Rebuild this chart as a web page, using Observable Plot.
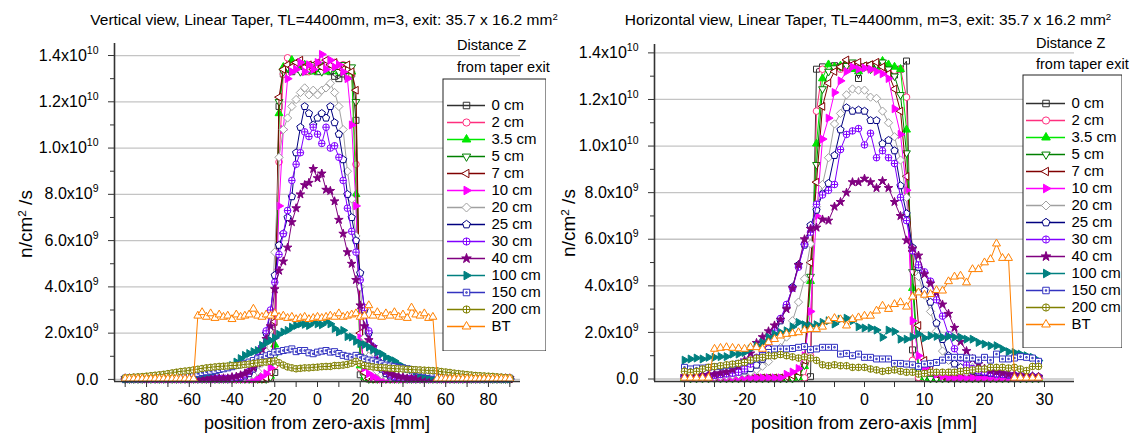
<!DOCTYPE html>
<html>
<head>
<meta charset="utf-8">
<script src="https://cdn.jsdelivr.net/npm/d3@7"></script>
<script src="https://cdn.jsdelivr.net/npm/@observablehq/plot@0.6"></script>
<style>
  body { margin: 0; background: #fff; }
  #chart { position: relative; width: 1139px; height: 444px; overflow: hidden; background: #fff;
           font-family: Arial, "Liberation Sans", sans-serif; color: #000; }
  .panel { position: absolute; top: 0; }
  .panel svg, .legend svg { max-width: none; display: block; }
  .legend { position: absolute; }
  .title { position: absolute; font-size: 15.5px; white-space: nowrap; line-height: 16px; transform: translateX(-50%); }
  .head { position: absolute; font-size: 14.5px; white-space: nowrap; line-height: 14px; background: #fff; }
  .xlab { position: absolute; font-size: 18px; white-space: nowrap; transform: translateX(-50%); line-height: 18px; }
  .ylab { position: absolute; font-size: 19px; white-space: nowrap; line-height: 19px;
          transform: translate(-50%, -50%) rotate(-90deg); }
  sup { font-size: 0.62em; position: relative; top: -0.55em; vertical-align: baseline; line-height: 0; }
</style>
</head>
<body>
<div id="chart">
  <div id="panelV" class="panel" style="left:0px"></div>
  <div id="panelH" class="panel" style="left:570px"></div>

  <div class="title" style="left:324px; top:12px">Vertical view, Linear Taper, TL=4400mm, m=3, exit: 35.7 x 16.2 mm<sup>2</sup></div>
  <div class="title" style="left:868px; top:12px">Horizontal view, Linear Taper, TL=4400mm, m=3, exit: 35.7 x 16.2 mm<sup>2</sup></div>

  <div class="ylab" style="left:25px; top:224px">n/cm<sup>2</sup> /s</div>
  <div class="ylab" style="left:568px; top:223px">n/cm<sup>2</sup> /s</div>

  <div class="xlab" style="left:317px; top:414px">position from zero-axis [mm]</div>
  <div class="xlab" style="left:864px; top:414px">position from zero-axis [mm]</div>

  <div class="head" style="left:457px; top:38px">Distance Z</div>
  <div class="head" style="left:457px; top:60px">from taper exit</div>
  <div class="head" style="left:1036px; top:36px">Distance Z</div>
  <div class="head" style="left:1036px; top:57px">from taper exit</div>

  <div id="legendV" class="legend" style="left:442px; top:78px"></div>
  <div id="legendH" class="legend" style="left:1022px; top:74px"></div>
</div>

<script>
// ---------------------------------------------------------------
// Neutron flux profiles behind a linear taper (units: 1e9 n/cm²/s)
// ---------------------------------------------------------------
const UNIT = 1e9;

const seriesNames = ["0 cm", "2 cm", "3.5 cm", "5 cm", "7 cm", "10 cm", "20 cm",
                     "25 cm", "30 cm", "40 cm", "100 cm", "150 cm", "200 cm", "BT"];
const seriesColors = ["#303030", "#ff2e7e", "#00e800", "#008000", "#800000", "#ff00ff", "#a0a0a0",
                      "#000080", "#8000ff", "#800080", "#008080", "#3333c0", "#808000", "#ff8000"];
const markerSolid = [false, false, true, false, false, true, false,
                     false, false, true, true, false, false, false];

// axis ticks
const yMajor = [0, 2e9, 4e9, 6e9, 8e9, 10e9, 12e9, 14e9];
const yMinor = [1e9, 3e9, 5e9, 7e9, 9e9, 11e9, 13e9];
const xMajorV = [-80, -60, -40, -20, 0, 20, 40, 60, 80];
const xMinorV = [-90, -70, -50, -30, -10, 10, 30, 50, 70, 90];
const xMajorH = [-30, -20, -10, 0, 10, 20, 30];
const xMinorH = [-25, -15, -5, 5, 15, 25];

// ---------------- vertical view: positions (mm) ----------------
const posV = [-90,-88,-86,-84,-82,-80,-78,-76,-74,-72,-70,-68,-66,-64,-62,-60,-58,-56,-54,-52,-50,-48,-46,-44,-42,
  -40,-38,-36,-34,-32,-30,-28,-26,-24,-22,-20,-18,-16,-14,-12,-10,-8,-6,-4,-2,0,2,4,6,8,10,12,14,16,18,20,
  22,24,26,28,30,32,34,36,38,40,42,44,46,48,50,52,54,56,58,60,62,64,66,68,70,72,74,76,78,80,82,84,86,88,90];

const vV0 = [
  0.02,0.02,0.02,0.02,0.02,0.02,0.02,0.02,0.02,0.02,0.02,0.02,0.02,0.02,0.02,0.02,0.02,
  0.02,0.02,0.02,0.02,0.02,0.02,0.02,0.02,0.02,0.02,0.02,0.02,0.02,0.02,0.02,0.02,0.02,
  0.05,0.3,11.8,13.2,13.4,13.3,13.5,13.4,13.3,13.5,13.4,
  13.3,13.5,13.4,13.3,13.1,13.0,13.2,13.1,13.2,11.2,0.2,0.05,
  0.02,0.02,0.02,0.02,0.02,0.02,0.02,0.02,0.02,0.02,0.02,0.02,0.02,0.02,0.02,0.02,0.02,
  0.02,0.02,0.02,0.02,0.02,0.02,0.02,0.02,0.02,0.02,0.02,0.02,0.02,0.02,0.02,0.02,0.02];
const vV2 = [
  0.02,0.02,0.02,0.02,0.02,0.02,0.02,0.02,0.02,0.02,0.02,0.02,0.02,0.02,0.02,0.02,0.02,
  0.02,0.02,0.02,0.02,0.02,0.02,0.02,0.02,0.02,0.02,0.02,0.02,0.02,0.02,0.02,0.02,0.02,
  0.1,0.6,9.4,13.2,13.9,13.5,13.6,13.4,13.6,13.3,13.5,
  13.6,13.4,13.6,13.5,13.7,13.5,13.6,13.4,13.2,9.3,0.5,0.1,
  0.02,0.02,0.02,0.02,0.02,0.02,0.02,0.02,0.02,0.02,0.02,0.02,0.02,0.02,0.02,0.02,0.02,
  0.02,0.02,0.02,0.02,0.02,0.02,0.02,0.02,0.02,0.02,0.02,0.02,0.02,0.02,0.02,0.02,0.02];
const vV3p5 = [
  0.02,0.02,0.02,0.02,0.02,0.02,0.02,0.02,0.02,0.02,0.02,0.02,0.02,0.02,0.02,0.02,0.02,
  0.02,0.02,0.02,0.02,0.02,0.02,0.02,0.02,0.02,0.02,0.02,0.02,0.02,0.02,0.02,0.02,0.02,
  0.15,1.5,11.5,13.5,13.4,13.8,13.5,13.4,13.6,13.5,13.3,
  13.4,13.5,13.3,13.4,13.5,13.3,13.4,13.5,13.3,8.0,0.6,0.1,
  0.02,0.02,0.02,0.02,0.02,0.02,0.02,0.02,0.02,0.02,0.02,0.02,0.02,0.02,0.02,0.02,0.02,
  0.02,0.02,0.02,0.02,0.02,0.02,0.02,0.02,0.02,0.02,0.02,0.02,0.02,0.02,0.02,0.02,0.02];
const vV5 = [
  0.02,0.02,0.02,0.02,0.02,0.02,0.02,0.02,0.02,0.02,0.02,0.02,0.02,0.02,0.02,0.02,0.02,
  0.02,0.02,0.02,0.02,0.02,0.02,0.02,0.02,0.02,0.02,0.02,0.02,0.02,0.02,0.02,0.02,0.02,
  0.1,1.0,12.0,13.3,13.5,13.4,13.6,13.3,13.5,13.4,13.6,
  13.5,13.3,13.6,13.4,13.5,13.3,13.6,13.4,13.5,12.0,1.0,0.1,
  0.02,0.02,0.02,0.02,0.02,0.02,0.02,0.02,0.02,0.02,0.02,0.02,0.02,0.02,0.02,0.02,0.02,
  0.02,0.02,0.02,0.02,0.02,0.02,0.02,0.02,0.02,0.02,0.02,0.02,0.02,0.02,0.02,0.02,0.02];
const vV7 = [
  0.02,0.02,0.02,0.02,0.02,0.02,0.02,0.02,0.02,0.02,0.02,0.02,0.02,0.02,0.02,0.02,0.02,
  0.02,0.02,0.02,0.02,0.02,0.02,0.02,0.02,0.02,0.02,0.02,0.02,0.02,0.02,0.02,0.02,0.05,
  0.3,2.5,12.2,13.4,13.6,13.5,13.7,13.8,13.5,13.6,13.4,
  13.7,13.5,13.8,13.6,13.7,13.5,13.4,13.6,13.3,12.5,2.0,0.3,
  0.05,0.02,0.02,0.02,0.02,0.02,0.02,0.02,0.02,0.02,0.02,0.02,0.02,0.02,0.02,0.02,0.02,
  0.02,0.02,0.02,0.02,0.02,0.02,0.02,0.02,0.02,0.02,0.02,0.02,0.02,0.02,0.02,0.02,0.02];
const vV10 = [
  0.02,0.02,0.02,0.02,0.02,0.02,0.02,0.02,0.02,0.02,0.02,0.02,0.02,0.02,0.02,0.02,
  0.02,0.02,0.02,0.02,0.02,0.02,0.02,0.02,0.02,0.02,0.02,0.02,0.02,0.02,0.02,
  0.05,0.12,0.25,
  0.5,1.8,7.5,10.8,13.0,13.3,13.4,13.7,13.3,13.6,13.4,
  13.7,14.05,13.4,13.8,13.5,13.6,13.3,13.0,11.0,7.5,1.8,0.5,
  0.25,0.12,0.05,
  0.02,0.02,0.02,0.02,0.02,0.02,0.02,0.02,0.02,0.02,0.02,0.02,0.02,0.02,0.02,0.02,
  0.02,0.02,0.02,0.02,0.02,0.02,0.02,0.02,0.02,0.02,0.02,0.02,0.02,0.02,0.02];
const vV20 = [
  0.02,0.02,0.02,0.02,0.02,0.02,0.02,0.02,0.02,0.02,0.02,0.02,0.02,
  0.02,0.02,0.02,0.02,0.02,0.02,0.02,0.02,0.02,0.02,0.02,0.02,
  0.04,0.05,0.07,0.1,0.14,0.2,0.35,0.7,1.2,2.2,
  5.5,9.6,10.8,11.3,11.8,12.1,12.4,12.6,12.3,12.5,12.3,12.5,12.6,12.8,12.4,11.8,10.8,9.0,7.8,6.2,4.0,
  1.8,1.0,0.6,0.35,0.2,0.14,0.1,0.07,0.05,0.04,
  0.02,0.02,0.02,0.02,0.02,0.02,0.02,0.02,0.02,0.02,0.02,0.02,0.02,
  0.02,0.02,0.02,0.02,0.02,0.02,0.02,0.02,0.02,0.02,0.02,0.02];
const vV25 = [
  0.03,0.03,0.03,0.03,0.03,0.03,0.03,0.03,0.03,0.03,0.03,0.03,0.03,
  0.03,0.03,0.03,0.03,0.03,0.03,0.03,0.03,0.03,0.03,0.03,0.03,
  0.05,0.07,0.1,0.15,0.25,0.45,0.8,1.4,2.0,2.9,
  4.5,5.8,6.3,7.0,7.9,9.8,10.9,11.8,11.5,11.0,11.3,11.5,11.3,11.8,11.1,10.6,9.5,8.0,7.0,6.0,4.6,
  3.0,2.0,1.4,0.8,0.45,0.25,0.15,0.1,0.07,0.05,
  0.03,0.03,0.03,0.03,0.03,0.03,0.03,0.03,0.03,0.03,0.03,0.03,0.03,
  0.03,0.03,0.03,0.03,0.03,0.03,0.03,0.03,0.03,0.03,0.03,0.03];
const vV30 = [
  0.04,0.04,0.04,0.04,0.04,0.04,0.04,0.04,0.04,0.04,0.04,0.04,0.04,
  0.04,0.04,0.04,0.04,0.04,0.04,0.04,0.04,0.04,0.04,0.04,0.04,
  0.06,0.08,0.12,0.2,0.35,0.6,0.95,1.4,2.1,3.0,
  4.2,5.4,6.3,7.3,8.6,9.3,9.8,10.7,10.5,10.9,10.6,10.2,10.9,10.0,10.1,9.6,8.6,7.4,6.4,5.5,4.3,
  3.1,2.1,1.4,0.95,0.6,0.35,0.2,0.12,0.08,0.06,
  0.04,0.04,0.04,0.04,0.04,0.04,0.04,0.04,0.04,0.04,0.04,0.04,0.04,
  0.04,0.04,0.04,0.04,0.04,0.04,0.04,0.04,0.04,0.04,0.04,0.04];
const vV40 = [
  0.05,0.05,0.05,0.05,0.05,0.05,0.05,0.05,0.05,0.05,0.05,0.05,0.05,
  0.05,0.05,0.05,0.05,0.05,0.05,0.05,0.05,0.05,0.05,0.05,0.05,
  0.1,0.12,0.18,0.25,0.35,0.5,0.7,1.3,1.75,2.3,
  3.9,4.7,5.1,5.7,6.8,7.4,8.0,8.4,8.5,9.1,8.7,8.9,8.2,8.15,7.7,6.9,6.3,5.5,5.0,4.3,3.2,
  2.3,1.7,1.4,0.8,0.55,0.35,0.25,0.18,0.12,0.1,
  0.05,0.05,0.05,0.05,0.05,0.05,0.05,0.05,0.05,0.05,0.05,0.05,0.05,
  0.05,0.05,0.05,0.05,0.05,0.05,0.05,0.05,0.05,0.05,0.05,0.05];
const vV100 = [
  0.02,0.03,0.03,0.04,0.05,0.06,0.07,0.08,0.09,0.1,0.11,0.12,0.13,0.14,0.16,0.18,0.2,0.22,0.25,0.28,
  0.32,0.36,0.4,0.47,0.53,
  0.6,0.75,0.9,1.04,1.12,1.2,1.25,1.47,1.6,1.68,
  1.8,1.95,2.05,2.12,2.26,2.33,2.4,2.38,2.33,2.48,2.4,2.36,2.5,2.4,2.2,2.05,2.12,1.85,1.83,1.65,1.55,
  1.5,1.4,1.28,1.18,1.1,0.95,0.88,0.8,0.65,0.55,
  0.46,0.42,0.36,0.26,0.2,0.17,0.15,0.13,0.12,0.11,0.1,0.09,0.08,0.07,0.07,0.06,0.05,0.05,0.04,0.04,
  0.03,0.03,0.03,0.02,0.02];
const vV150 = [
  0.03,0.04,0.05,0.05,0.06,0.07,0.08,0.1,0.12,0.13,0.14,0.15,0.17,0.18,0.2,0.22,0.24,0.26,0.3,0.33,
  0.36,0.39,0.43,0.46,0.5,
  0.55,0.6,0.64,0.68,0.75,0.82,0.89,0.95,1.02,1.08,
  1.18,1.2,1.25,1.28,1.32,1.2,1.25,1.25,1.15,1.11,1.18,1.22,1.25,1.18,1.2,1.12,1.04,1.0,0.96,1.04,0.95,
  0.89,0.84,0.8,0.75,0.68,0.62,0.58,0.55,0.52,0.49,
  0.46,0.42,0.39,0.36,0.33,0.3,0.27,0.24,0.21,0.18,0.16,0.15,0.14,0.13,0.12,0.11,0.1,0.09,0.08,0.08,
  0.07,0.06,0.06,0.05,0.05];
const vV200 = [
  0.07,0.08,0.1,0.11,0.12,0.14,0.16,0.18,0.2,0.22,0.25,0.28,0.31,0.34,0.36,0.38,0.41,0.44,0.47,0.5,
  0.52,0.54,0.56,0.57,0.58,
  0.6,0.6,0.62,0.64,0.66,0.69,0.71,0.74,0.75,0.78,
  0.8,0.72,0.62,0.54,0.5,0.46,0.48,0.5,0.5,0.52,0.53,0.55,0.56,0.56,0.6,0.6,0.62,0.65,0.7,0.78,0.68,
  0.6,0.57,0.54,0.52,0.51,0.5,0.48,0.47,0.46,0.45,
  0.44,0.43,0.42,0.41,0.4,0.39,0.38,0.37,0.34,0.32,0.3,0.27,0.25,0.23,0.21,0.19,0.17,0.16,0.15,0.14,
  0.13,0.11,0.1,0.08,0.07];
const vVBT = [
  0.03,0.03,0.03,0.03,0.03,0.03,0.03,0.03,0.03,0.03,0.03,0.03,0.03,0.03,0.03,0.03,0.03,
  2.75,2.9,2.7,2.85,2.65,2.8,2.7,2.75,2.6,2.8,
  2.7,2.75,2.8,3.05,2.75,2.7,2.8,2.75,2.85,2.7,
  2.75,2.65,2.7,2.6,2.65,2.7,2.6,2.65,2.7,2.65,
  2.7,2.75,2.7,2.85,2.7,2.75,2.8,2.85,2.7,2.75,
  3.2,2.75,2.9,2.7,2.85,2.75,2.9,2.7,2.8,2.65,
  3.1,2.8,2.75,2.85,2.65,2.7,
  0.03,0.03,0.03,0.03,0.03,0.03,0.03,0.03,0.03,0.03,0.03,0.03,0.03,0.03,0.03,0.03,0.03,0.03];

// --------------- horizontal view: positions (mm) ---------------
const posH = [-30,-29,-28,-27,-26,-25,-24,-23,-22,-21,-20,-19,-18,-17,-16,-15,-14,-13,-12,-11,
  -10,-9,-8,-7,-6,-5,-4,-3,-2,-1,0,1,2,3,4,5,6,7,8,9,10,11,12,13,14,15,16,17,18,19,
  20,21,22,23,24,25,26,27,28,29];

const vH0 = [
  0.02,0.02,0.02,0.02,0.02,0.02,0.02,0.02,0.02,0.02,0.02,0.02,0.02,0.02,0.02,0.02,0.02,0.02,0.02,0.02,0.02,
  0.1,13.3,
  13.4,13.35,13.45,13.4,13.5,13.4,12.9,13.4,13.45,13.5,13.4,13.2,13.05,13.3,13.65,
  1.25,0.05,
  0.02,0.02,0.02,0.02,0.02,0.02,0.02,0.02,0.02,0.02,0.02,0.02,0.02,0.02,0.02,0.02,0.02,0.02,0.02,0.02];
const vH2 = [
  0.03,0.03,0.03,0.03,0.03,0.03,0.03,0.03,0.03,0.03,0.03,0.03,0.03,0.03,0.03,0.03,0.03,0.03,0.03,0.03,
  0.05,1.0,11.5,
  13.3,13.35,13.4,13.3,13.45,13.4,13.35,13.4,13.3,13.4,13.35,13.3,13.25,13.3,
  12.1,0.8,0.07,
  0.03,0.03,0.03,0.03,0.03,0.03,0.03,0.03,0.03,0.03,0.03,0.03,0.03,0.03,0.03,0.03,0.03,0.03,0.03,0.03];
const vH3p5 = [
  0.02,0.02,0.02,0.02,0.02,0.02,0.02,0.02,0.02,0.02,0.02,0.02,0.02,0.02,0.02,0.02,0.02,0.02,0.02,
  0.07,0.55,4.2,10.1,12.9,
  13.5,13.4,13.45,13.55,13.3,13.2,13.4,13.45,13.4,13.65,13.5,13.4,13.3,
  10.7,3.9,0.5,0.07,
  0.02,0.02,0.02,0.02,0.02,0.02,0.02,0.02,0.02,0.02,0.02,0.02,0.02,0.02,0.02,0.02,0.02,0.02,0.02];
const vH5 = [
  0.02,0.02,0.02,0.02,0.02,0.02,0.02,0.02,0.02,0.02,0.02,0.02,0.02,0.02,0.02,0.02,0.02,0.02,0.02,
  0.1,0.6,4.4,9.2,12.45,
  13.2,13.35,13.4,13.45,13.6,13.35,13.4,13.3,13.5,13.6,13.3,13.0,
  12.2,9.7,4.6,0.4,0.08,
  0.02,0.02,0.02,0.02,0.02,0.02,0.02,0.02,0.02,0.02,0.02,0.02,0.02,0.02,0.02,0.02,0.02,0.02,0.02];
const vH7 = [
  0.05,0.05,0.05,0.05,0.05,0.05,0.05,0.05,0.05,0.05,0.05,0.05,0.05,0.05,0.05,0.05,0.05,
  0.1,0.15,0.3,0.8,5.0,8.45,11.7,12.7,13.2,13.4,13.7,13.5,13.6,
  13.45,13.5,13.6,13.4,13.1,12.45,11.5,8.7,5.5,2.3,0.8,0.4,0.2,0.12,
  0.05,0.05,0.05,0.05,0.05,0.05,0.05,0.05,0.05,0.05,0.05,0.05,0.05,0.05,0.05,0.05];
const vH10 = [
  0.05,0.05,0.05,0.05,0.05,0.05,0.05,0.05,0.05,0.05,0.05,0.05,0.05,0.05,0.05,0.05,0.05,
  0.2,0.3,0.45,1.0,2.9,7.0,10.3,11.2,12.3,12.8,13.2,13.4,13.3,
  13.35,13.3,13.2,13.1,12.9,11.6,10.5,8.1,2.5,1.0,0.5,0.3,0.2,0.12,
  0.05,0.05,0.05,0.05,0.05,0.05,0.05,0.05,0.05,0.05,0.05,0.05,0.05,0.05,0.05,0.05];
const vH20 = [
  0.05,0.05,0.06,0.07,0.08,0.1,0.12,0.14,0.17,0.2,
  0.25,0.3,0.4,0.55,0.75,1.0,1.35,1.8,2.5,3.3,
  4.3,5.8,7.4,8.35,9.5,10.95,11.4,12.2,12.45,12.4,
  12.4,12.1,12.05,11.5,11.0,10.4,9.4,7.8,5.6,4.4,
  3.6,2.9,2.05,1.2,0.8,0.45,0.35,0.3,0.5,0.4,
  0.3,0.25,0.2,0.25,0.18,0.15,0.12,0.1,0.08,0.07];
const vH25 = [
  0.1,0.1,0.12,0.13,0.15,0.17,0.2,0.23,0.26,0.3,
  0.35,0.45,0.6,0.85,1.3,1.85,2.5,3.1,3.95,4.9,
  5.75,6.6,7.25,7.95,8.4,9.6,10.7,11.65,11.5,11.55,
  11.5,11.1,11.1,10.1,10.25,9.8,8.3,7.1,5.65,4.8,
  3.8,3.3,2.4,1.7,1.0,0.65,0.5,0.4,0.35,0.3,
  0.28,0.25,0.22,0.2,0.18,0.16,0.14,0.13,0.12,0.1];
const vH30 = [
  0.1,0.1,0.11,0.12,0.14,0.16,0.19,0.22,0.25,0.29,
  0.43,0.64,0.93,1.14,1.57,2.1,2.6,3.2,3.9,4.8,
  5.8,6.3,7.5,7.9,8.1,8.35,9.85,10.5,10.65,10.75,
  10.05,10.55,9.5,9.8,9.5,9.25,7.8,6.8,5.5,4.9,
  4.6,4.2,3.4,2.7,1.9,1.3,0.9,0.6,0.45,0.35,
  0.3,0.26,0.22,0.2,0.18,0.16,0.14,0.12,0.1,0.08];
const vH40 = [
  0.12,0.12,0.14,0.16,0.18,0.2,0.25,0.3,0.4,0.55,
  0.8,1.1,1.55,1.8,2.05,2.3,2.55,3.0,3.9,4.9,
  6.0,6.45,6.5,6.85,6.8,7.4,7.6,8.0,8.45,8.45,
  8.6,8.45,8.2,8.5,8.2,7.6,7.0,5.95,5.6,5.3,
  4.5,4.1,3.7,3.2,2.8,2.2,1.6,1.2,0.86,0.64,
  0.45,0.35,0.3,0.25,0.2,0.18,0.16,0.14,0.12,0.1];
const vH100 = [
  0.81,0.86,0.9,0.86,0.93,0.93,0.96,0.96,1.07,1.07,
  1.14,1.29,1.43,1.57,1.79,1.93,2.0,2.07,2.24,2.43,
  2.33,2.29,2.33,2.43,2.5,2.36,2.57,2.61,2.5,2.24,
  2.19,2.19,2.1,1.79,2.1,2.04,1.71,1.71,1.81,1.93,
  1.76,1.86,1.83,1.79,1.83,1.79,1.79,1.71,1.71,1.57,
  1.5,1.43,1.43,1.29,1.17,1.14,1.07,1.0,0.93,0.79];
const vH150 = [
  0.5,0.43,0.47,0.47,0.5,0.53,0.53,0.57,0.61,0.67,
  0.71,0.79,0.86,1.0,1.14,1.29,1.29,1.29,1.31,1.36,
  1.39,1.26,1.29,1.36,1.36,1.36,1.07,1.1,1.0,1.07,
  0.93,0.93,0.86,0.86,0.86,0.67,0.67,0.64,0.61,0.54,
  0.64,0.67,0.71,0.81,0.93,0.93,0.93,0.9,0.9,0.81,
  0.93,0.81,1.07,0.86,0.86,0.9,0.96,0.93,0.9,0.76];
const vH200 = [
  0.33,0.29,0.33,0.43,0.5,0.53,0.57,0.61,0.64,0.67,
  0.71,0.81,0.9,0.93,1.0,1.0,1.05,1.0,0.95,0.9,
  0.95,0.9,0.8,0.61,0.57,0.61,0.57,0.57,0.5,0.5,
  0.5,0.43,0.39,0.33,0.36,0.39,0.33,0.29,0.29,0.21,
  0.24,0.29,0.29,0.29,0.29,0.29,0.33,0.36,0.39,0.43,
  0.43,0.5,0.5,0.5,0.47,0.5,0.43,0.36,0.54,0.54];
const vHBT = [
  0.05,0.05,0.05,0.05,0.05,
  1.29,1.33,1.36,1.33,1.31,1.29,1.36,1.36,1.29,1.57,
  1.71,1.86,1.93,1.96,2.0,2.1,2.14,2.14,2.24,2.5,
  2.61,2.56,2.29,2.57,2.64,2.71,2.71,2.93,3.14,3.0,
  3.21,3.29,3.1,3.53,3.71,3.61,3.64,3.81,3.79,4.19,
  4.39,4.43,4.14,4.71,4.71,5.0,5.14,5.81,5.19,5.19,
  0.05,0.05,0.05,0.05,0.05];

const valuesV = [vV0, vV2, vV3p5, vV5, vV7, vV10, vV20, vV25, vV30, vV40, vV100, vV150, vV200, vVBT];
const valuesH = [vH0, vH2, vH3p5, vH5, vH7, vH10, vH20, vH25, vH30, vH40, vH100, vH150, vH200, vHBT];

// ---------------- marker shapes (Origin-like) ----------------
const rad = size => Math.sqrt(size / Math.PI);
function polygon(vertices, k) {
  return {
    draw(ctx, size) {
      const r = rad(size) * k;
      vertices.forEach(([a, b], i) => i ? ctx.lineTo(a * r, b * r) : ctx.moveTo(a * r, b * r));
      ctx.closePath();
    }
  };
}
function regular(n, rot) {
  return d3.range(n).map(i => [Math.sin(rot + 2 * Math.PI * i / n), -Math.cos(rot + 2 * Math.PI * i / n)]);
}
const symSquare = polygon([[-1, -1], [1, -1], [1, 1], [-1, 1]], 0.88);
const symTriUp = polygon(regular(3, 0), 1.35);
const symTriDown = polygon(regular(3, Math.PI), 1.35);
const symTriLeft = polygon(regular(3, -Math.PI / 2), 1.35);
const symTriRight = polygon(regular(3, Math.PI / 2), 1.35);
const symDiamond = polygon(regular(4, 0), 1.25);
const symPentagon = polygon(regular(5, 0), 1.12);
const symCirclePlus = {
  draw(ctx, size) {
    const r = rad(size);
    ctx.moveTo(r, 0); ctx.arc(0, 0, r, 0, 2 * Math.PI);
    ctx.moveTo(-r, 0); ctx.lineTo(r, 0);
    ctx.moveTo(0, -r); ctx.lineTo(0, r);
  }
};
const symSquareDot = {
  draw(ctx, size) {
    const r = rad(size) * 0.88, q = 0.7;
    ctx.moveTo(-r, -r); ctx.lineTo(r, -r); ctx.lineTo(r, r); ctx.lineTo(-r, r); ctx.closePath();
    ctx.moveTo(-q, -q); ctx.lineTo(q, -q); ctx.lineTo(q, q); ctx.lineTo(-q, q); ctx.closePath();
  }
};
const markerSymbols = [symSquare, d3.symbolCircle, symTriUp, symTriDown, symTriLeft, symTriRight, symDiamond,
                       symPentagon, symCirclePlus, d3.symbolStar, symTriRight, symSquareDot, symCirclePlus, symTriUp];
const markerR = [3.4, 3.3, 3.4, 3.3, 3.3, 3.4, 3.3, 3.4, 3.3, 2.7, 3.4, 3.4, 3.3, 3.4];
const markerFill = k => markerSolid[k] ? seriesColors[k] : (k === 0 ? "none" : "white");

const fontFamily = "Arial, 'Liberation Sans', sans-serif";

const fmtY = v => {
  const g = v / UNIT;
  if (g === 0) return "0.0";
  return g < 10 ? g.toFixed(1) + "x10^9" : (g / 10).toFixed(1) + "x10^10";
};

// rewrites "a^b" tick labels into a base + superscript
function superscriptTicks(svg) {
  d3.select(svg).selectAll('g[aria-label="y-axis tick label"] text').each(function () {
    const s = this.textContent;
    const k = s.indexOf("^");
    if (k < 0) return;
    const t = d3.select(this);
    t.text(null);
    t.append("tspan").text(s.slice(0, k));
    t.append("tspan").attr("dy", "-7").attr("font-size", "10.5px").text(s.slice(k + 1));
  });
}

function drawPanel(target, cfg) {
  valuesV.forEach((v, k) => { if (v.length !== posV.length) throw new Error("V " + seriesNames[k] + " " + v.length); });
  valuesH.forEach((v, k) => { if (v.length !== posH.length) throw new Error("H " + seriesNames[k] + " " + v.length); });

  const marks = [Plot.gridY(yMajor, {stroke: "#c4c4c4", strokeOpacity: 1, strokeWidth: 1.3})];
  seriesNames.forEach((name, k) => {
    const pts = cfg.pos.map((x, i) => ({x, y: cfg.values[k][i] * UNIT}));
    marks.push(Plot.line(pts, {x: "x", y: "y", stroke: seriesColors[k], strokeWidth: 1}));
    marks.push(Plot.dot(pts, {x: "x", y: "y", r: markerR[k], symbol: markerSymbols[k],
      stroke: seriesColors[k], strokeWidth: 1, fill: markerFill(k)}));
  });
  marks.push(
    Plot.ruleX([cfg.xDomain[0]], {stroke: "#333", strokeWidth: 1.6}),
    Plot.ruleY([cfg.yDomain[0]], {stroke: "#333", strokeWidth: 1.6}),
    Plot.axisY(yMajor, {tickSize: 6, tickPadding: 10, tickFormat: fmtY, label: null, stroke: "#333"}),
    Plot.axisY(yMinor, {tickSize: 4, tickFormat: () => "", label: null, stroke: "#333"}),
    Plot.axisX(cfg.xMajor, {tickSize: 6, tickPadding: 6, tickFormat: d => String(d), label: null, stroke: "#333"}),
    Plot.axisX(cfg.xMinor, {tickSize: 6, tickFormat: () => "", label: null, stroke: "#333"})
  );
  const svg = Plot.plot({
    width: cfg.width, height: 444,
    marginLeft: cfg.marginLeft, marginRight: cfg.marginRight, marginTop: cfg.marginTop, marginBottom: 63,
    x: {domain: cfg.xDomain, label: null},
    y: {domain: cfg.yDomain, label: null},
    style: {fontFamily, fontSize: "16px", color: "#000", background: "transparent", overflow: "visible"},
    marks
  });
  superscriptTicks(svg);
  document.getElementById(target).append(svg);
}

function drawLegend(target, cfg) {
  const marks = [Plot.frame({stroke: "#222", strokeWidth: 1, fill: "white", inset: 0.5})];
  seriesNames.forEach((name, k) => {
    marks.push(Plot.ruleY([name], {y: d => d, x1: 0, x2: 1, stroke: seriesColors[k], strokeWidth: 1.3}));
    marks.push(Plot.dot([name], {x: 0.5, y: d => d, r: markerR[k] + 0.3, symbol: markerSymbols[k],
      stroke: seriesColors[k], strokeWidth: 1, fill: markerFill(k)}));
  });
  marks.push(Plot.text(seriesNames, {x: 1, y: d => d, text: d => d, dx: 6, textAnchor: "start",
    fill: "#000", fontSize: 15}));
  const svg = Plot.plot({
    width: cfg.width, height: cfg.height, margin: 0,
    x: {domain: [0, 1], range: cfg.xRange, axis: null},
    y: {type: "point", domain: seriesNames, range: cfg.yRange, axis: null},
    style: {fontFamily, background: "transparent"},
    marks
  });
  document.getElementById(target).append(svg);
}

drawPanel("panelV", {
  pos: posV, values: valuesV, width: 570,
  marginLeft: 114, marginRight: 50, marginTop: 43,
  xDomain: [-95, 95], yDomain: [-0.09e9, 14.52e9],
  xMajor: xMajorV, xMinor: xMinorV
});
drawPanel("panelH", {
  pos: posH, values: valuesH, width: 569,
  marginLeft: 84, marginRight: 65, marginTop: 44,
  xDomain: [-35, 35], yDomain: [-0.107e9, 14.36e9],
  xMajor: xMajorH, xMinor: xMinorH
});
drawLegend("legendV", {width: 104, height: 273, xRange: [5, 43], yRange: [12, 263.7]});
drawLegend("legendH", {width: 100, height: 274, xRange: [4, 43], yRange: [13.7, 265.3]});
</script>
</body>
</html>
